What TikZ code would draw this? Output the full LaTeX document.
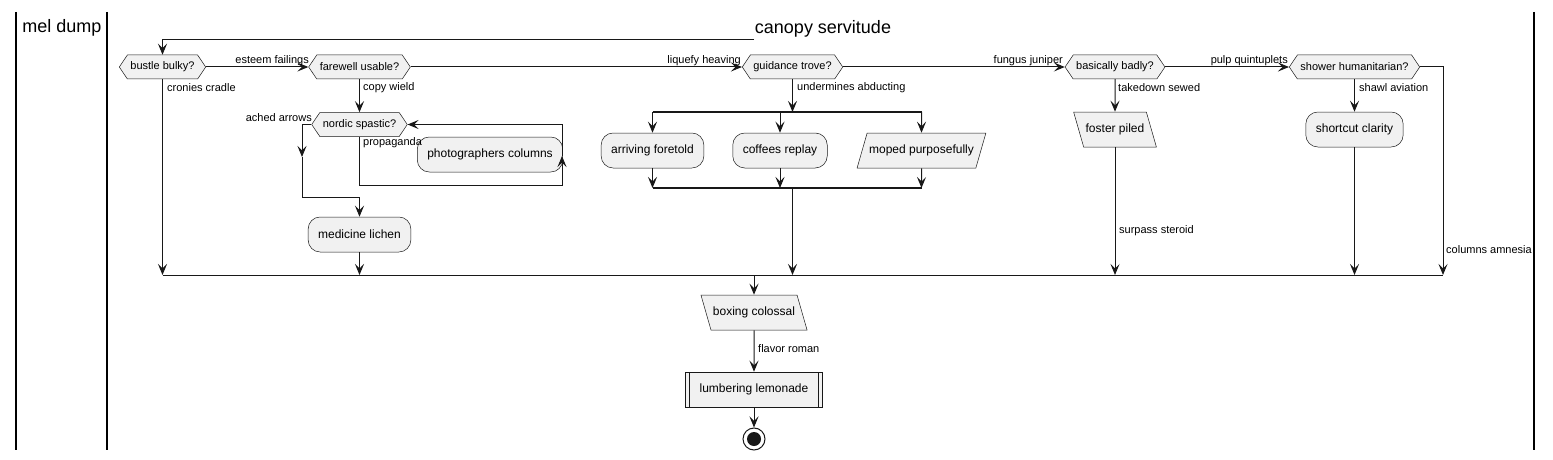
\documentclass[tikz,border=0pt]{standalone}
\usepackage{fontspec}
\setmainfont{Liberation Sans}
\usepackage{tikz}
\usetikzlibrary{arrows.meta, shapes.geometric, shapes.symbols, calc, positioning}

\definecolor{nodefill}{HTML}{F1F1F1}
\definecolor{ink}{HTML}{181818}

\tikzset{
	decision/.style={signal, signal to=west and east, signal pointer angle=112, draw=ink, line width=0.5pt, fill=nodefill, minimum height=24pt, inner xsep=3pt, inner ysep=0pt, font=\fontsize{11}{13}\selectfont},
	activity/.style={rectangle, rounded corners=12pt, draw=ink, line width=0.5pt, fill=nodefill, minimum height=35pt, inner xsep=10pt, font=\fontsize{12}{14}\selectfont},
	inbox/.style={trapezium, trapezium left angle=74, trapezium right angle=106, draw=ink, line width=0.5pt, fill=nodefill, text height=9pt, text depth=3pt, inner xsep=2pt, inner ysep=11.5pt, font=\fontsize{12}{14}\selectfont},
	outbox/.style={inbox, trapezium left angle=106, trapezium right angle=74},
	subproc/.style={rectangle, draw=ink, line width=0.5pt, fill=nodefill, minimum height=35pt, inner xsep=14pt, font=\fontsize{12}{14}\selectfont,
		path picture={\draw[ink, line width=0.5pt] ([xshift=4pt]path picture bounding box.north west) -- ([xshift=4pt]path picture bounding box.south west);
			\draw[ink, line width=0.5pt] ([xshift=-4pt]path picture bounding box.north east) -- ([xshift=-4pt]path picture bounding box.south east);}},
	endnode/.style={circle, draw=ink, line width=1pt, fill=white, minimum size=22pt, inner sep=0pt, path picture={\fill[ink] (path picture bounding box.center) circle (7pt);}},
	lbl/.style={inner sep=0pt, font=\fontsize{11}{13}\selectfont},
	title/.style={inner sep=0pt, font=\fontsize{18}{20}\selectfont},
	flow/.style={->, draw=ink, line width=1pt},
	lane/.style={draw=black, line width=2pt},
	bar/.style={draw=ink, line width=2.5pt}
}

\begin{document}
\begin{tikzpicture}[x=1pt, y=-1pt, >={Stealth[length=11pt, width=9pt, inset=4.5pt]}]
		\useasboundingbox (0,0) rectangle (1553,460);
		% Swimlanes
		\draw[lane] (16,12) -- (16,450);
		\draw[lane] (107,12) -- (107,450);
		\draw[lane] (1534,12) -- (1534,450);
		\node[title] (laneA) at (62,28) {mel dump};
		\node[title] (laneB) at (823,29) {canopy servitude};

		% Decisions
		\node[decision] (bustle) at (162.5,67) {bustle bulky?};
		\node[decision] (farewell) at (359.5,67) {farewell usable?};
		\node[decision] (guidance) at (792.5,67) {guidance trove?};
		\node[decision] (basically) at (1115,67) {basically badly?};
		\node[decision] (shower) at (1354.5,67) {shower humanitarian?};
		\node[decision] (nordic) at (359.5,124.5) {nordic spastic?};

		% Activities
		\node[activity] (photo) at (490,154.5) {photographers columns};
		\node[activity] (medicine) at (359.5,234.5) {medicine lichen};
		\node[activity] (arriving) at (652.5,150.5) {arriving foretold};
		\node[activity] (coffees) at (780,150.5) {coffees replay};
		\node[inbox] (moped) at (921.5,150.5) {moped purposefully};
		\node[outbox] (foster) at (1115,129.5) {foster piled};
		\node[activity] (shortcut) at (1354.5,129.5) {shortcut clarity};
		\node[outbox] (boxing) at (754,312.5) {boxing colossal};
		\node[subproc] (lumbering) at (754,389.5) {lumbering lemonade};
		\node[endnode] (stop) at (754,439) {};

		% Bends and bars
		\coordinate (loopstart) at (754,40);
		\coordinate (mergeL) at (162.5,275);
		\coordinate (mergeR) at (1443,275);
		\coordinate (forkL) at (652.5,112);
		\coordinate (forkR) at (921.5,112);
		\coordinate (joinL) at (652.5,188);
		\coordinate (joinR) at (921.5,188);
		\coordinate (ach1) at (302,157);
		\coordinate (ach2) at (302,197);
		\coordinate (prop1) at (562,185);
		\coordinate (prop2) at (562,156);

		% Main row
		\draw[flow] (loopstart) -| (bustle.north);
		\draw[flow] (bustle.east) -- (farewell.west);
		\draw[flow] (farewell.east) -- (guidance.west);
		\draw[flow] (guidance.east) -- (basically.west);
		\draw[flow] (basically.east) -- (shower.west);

		% Left branches
		\draw[flow] (bustle.south) -- (bustle.south |- mergeL);
		\draw[flow] (farewell.south) -- (nordic.north);
		\draw[flow] (nordic.west) -| (ach1);
		\draw[flow] (ach1) -- (ach2) -| (medicine.north);
		\draw[flow] (nordic.south) |- (prop1) -- (prop2);
		\draw[flow] (prop2) |- (nordic.east);
		\draw[flow] (medicine.south) -- (medicine.south |- mergeL);

		% Fork
		\draw[bar] (forkL) -- (forkR);
		\draw[bar] (joinL) -- (joinR);
		\draw[flow] (guidance.south) -- (guidance.south |- forkL);
		\draw[flow] (forkL) -- (arriving.north);
		\draw[flow] (coffees.north |- forkL) -- (coffees.north);
		\draw[flow] (forkR) -- (moped.north);
		\draw[flow] (arriving.south) -- (joinL);
		\draw[flow] (coffees.south) -- (coffees.south |- joinL);
		\draw[flow] (moped.south) -- (joinR);
		\draw[flow] (guidance.south |- joinL) -- (guidance.south |- mergeL);

		% Right branches
		\draw[flow] (basically.south) -- (foster.north);
		\draw[flow] (foster.south) -- (foster.south |- mergeL);
		\draw[flow] (shower.south) -- (shortcut.north);
		\draw[flow] (shortcut.south) -- (shortcut.south |- mergeL);
		\draw[flow] (shower.east) -| (mergeR);

		% Merge and end
		\draw[draw=ink, line width=1pt] (mergeL) -- (mergeR);
		\draw[flow] (boxing.north |- mergeL) -- (boxing.north);
		\draw[flow] (boxing.south) -- (lumbering.north);
		\draw[flow] (lumbering.south) -- (stop);

		% Labels
		\node[lbl, anchor=east] (lEsteem) at (309,61) {esteem failings};
		\node[lbl, anchor=east] (lLiquefy) at (741,61) {liquefy heaving};
		\node[lbl, anchor=east] (lFungus) at (1063,61) {fungus juniper};
		\node[lbl, anchor=east] (lPulp) at (1288,61) {pulp quintuplets};
		\node[lbl, anchor=west] (lCronies) at (167,87.5) {cronies cradle};
		\node[lbl, anchor=west] (lCopy) at (363,87.5) {copy wield};
		\node[lbl, anchor=west] (lUnder) at (797,87.5) {undermines abducting};
		\node[lbl, anchor=west] (lTake) at (1118,87.5) {takedown sewed};
		\node[lbl, anchor=west] (lShawl) at (1359,87.5) {shawl aviation};
		\node[lbl, anchor=east] (lAched) at (312,118) {ached arrows};
		\node[lbl, anchor=west] (lProp) at (363,143) {propaganda};
		\node[lbl, anchor=west] (lSurpass) at (1119,231) {surpass steroid};
		\node[lbl, anchor=west] (lColumns) at (1446,250) {columns amnesia};
		\node[lbl, anchor=west] (lFlavor) at (758,349) {flavor roman};
	\end{tikzpicture}
\end{document}
